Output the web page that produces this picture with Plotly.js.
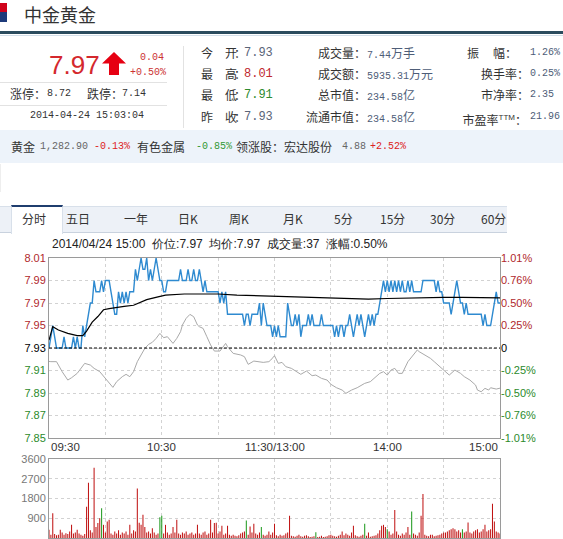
<!DOCTYPE html>
<html><head><meta charset="utf-8">
<script src="https://cdn.plot.ly/plotly-3.0.1.min.js"></script>
<style>
body{margin:0;width:563px;height:539px;overflow:hidden;background:#fff;position:relative;font-family:"Noto Sans CJK SC",sans-serif;}
.t{position:absolute;white-space:nowrap;line-height:16px;height:16px;font-size:12px;color:#333;}
.n{font-family:"Liberation Mono",monospace;font-size:10px;}
.r{text-align:right;}
.box{position:absolute;}
#chart{position:absolute;left:0;top:248px;width:563px;height:291px;}
</style></head>
<body>
<div id="hdr"></div>
<div id="chart"></div>
<script>
// ===== DATA =====
const stockName = "中金黄金";
const lastPrice = "7.97", change = "0.04", changePct = "+0.50%";
const limitUp = "8.72", limitDown = "7.14", stamp = "2014-04-24 15:03:04";
const col1Labels = [["今","开"],["最","高"],["最","低"],["昨","收"]];
const col1Values = ["7.93","8.01","7.91","7.93"];
const col2Labels = ["成交量：","成交额：","总市值：","流通市值："];
const col2Values = [["7.44","万手"],["5935.31","万元"],["234.58","亿"],["234.58","亿"]];
const col3Labels = ["振幅","换手率：","市净率：","市盈率"];
const col3Values = ["1.26%","0.25%","2.35","21.96"];
const bandItems = [["黄金","#333",0],["1,282.90","#666",1],["-0.13%","#d22",1],["有色金属","#333",0],["-0.85%","#393",1],["领涨股：宏达股份","#333",0],["4.88","#666",1],["+2.52%","#d22",1]];
const tabs = ["分时","五日","一年","日K","周K","月K","5分","15分","30分","60分"];
const infoLine = "2014/04/24 15:00  价位:7.97  均价:7.97  成交量:37  涨幅:0.50%";

const prevClose = 7.93;
const price = [
7.93,7.94,7.95,7.94,7.93,7.93,7.93,7.93,7.94,7.93,
7.93,7.93,7.93,7.94,7.93,7.94,7.93,7.93,7.95,7.94,
7.95,7.96,7.97,7.97,7.99,7.98,7.98,7.98,7.99,7.98,
7.99,7.99,7.99,7.98,7.97,7.96,7.96,7.98,7.97,7.98,
7.97,7.98,7.97,7.98,7.98,7.98,8.00,7.99,8.00,8.01,
8.00,8.00,8.01,7.99,8.00,7.99,8.00,8.01,8.00,7.99,
7.99,7.98,7.98,7.99,7.99,7.99,7.99,7.99,7.99,7.99,
8.00,7.99,7.99,7.99,8.00,7.99,7.99,8.00,7.99,7.99,
8.00,7.99,7.98,7.99,7.98,7.98,7.98,7.98,7.98,7.98,
7.98,7.97,7.98,7.97,7.98,7.96,7.96,7.96,7.96,7.96,
7.96,7.96,7.96,7.96,7.95,7.96,7.96,7.95,7.96,7.96,
7.96,7.96,7.97,7.95,7.97,7.96,7.95,7.95,7.95,7.94,
7.95,7.94,7.95,7.94,7.94,7.94,7.94,7.97,7.96,7.95,
7.95,7.96,7.95,7.96,7.94,7.95,7.95,7.95,7.96,7.95,
7.96,7.95,7.95,7.95,7.95,7.96,7.95,7.95,7.95,7.95,
7.95,7.95,7.94,7.95,7.94,7.95,7.95,7.94,7.95,7.95,
7.96,7.95,7.94,7.95,7.96,7.95,7.96,7.95,7.94,7.95,
7.96,7.95,7.96,7.95,7.96,7.96,7.97,7.98,7.99,7.98,
7.99,7.98,7.99,7.98,7.99,7.98,7.99,7.98,7.99,7.98,
7.98,7.99,7.98,7.99,7.98,7.98,7.98,7.98,7.98,7.99,
7.99,7.99,7.99,7.99,7.99,7.99,7.98,7.99,7.98,7.98,
7.97,7.97,7.97,7.97,7.96,7.97,7.98,7.99,7.98,7.97,
7.97,7.96,7.97,7.96,7.96,7.96,7.96,7.96,7.96,7.96,
7.96,7.95,7.96,7.95,7.95,7.95,7.96,7.97,7.98,7.97,7.97];
const avgMin = [0,2,5,10,15,18,20,23,26,29,32,35,40,45,48,52,58,62,72,82,90,100,110,120,130,140,150,160,170,180,190,200,210,220,230,240];
const avgPrice = [7.937,7.949,7.946,7.943,7.941,7.941,7.945,7.953,7.958,7.964,7.965,7.966,7.967,7.968,7.970,7.973,7.9755,7.977,7.978,7.978,7.978,7.977,7.9765,7.976,7.975,7.9745,7.974,7.9735,7.9735,7.974,7.9745,7.975,7.975,7.975,7.975,7.9745];
const idxMin = [0,1,4,7,10,12,15,19,22,24,27,30,32,34,36,39,41,43,45,47,49,51,53,55,57,59,61,63,66,68,70,71,73,75,77,79,80,82,84,86,88,91,94,95,98,102,104,106,109,111,114,117,118,120,122,124,126,129,132,134,137,140,142,145,148,150,153,156,158,161,164,165,168,171,173,176,178,180,182,184,186,188,191,194,196,197,200,203,205,208,211,213,216,219,221,224,227,228,230,232,234,235,238,240];
const idxPct = [-0.15,-0.153,-0.153,-0.265,-0.359,-0.333,-0.284,-0.172,-0.191,-0.228,-0.265,-0.34,-0.396,-0.441,-0.377,-0.321,-0.295,-0.321,-0.265,-0.153,-0.078,-0.004,0.041,0.064,0.108,0.164,0.116,0.127,0.052,0.108,0.183,0.258,0.333,0.377,0.351,0.258,0.239,0.22,0.127,0.034,-0.034,-0.034,0.052,0.015,-0.06,-0.078,-0.097,-0.183,-0.146,-0.153,-0.161,-0.153,-0.135,-0.086,-0.172,-0.161,-0.209,-0.228,-0.273,-0.295,-0.258,-0.31,-0.303,-0.34,-0.359,-0.407,-0.445,-0.471,-0.508,-0.471,-0.445,-0.434,-0.396,-0.377,-0.34,-0.284,-0.265,-0.303,-0.247,-0.228,-0.284,-0.284,-0.153,-0.078,-0.022,-0.041,-0.078,-0.116,-0.153,-0.209,-0.265,-0.303,-0.247,-0.284,-0.321,-0.359,-0.415,-0.471,-0.49,-0.452,-0.471,-0.445,-0.46,-0.45];
const volume = [
380,150,1130,180,120,150,380,250,150,220,
180,300,600,200,250,380,200,150,100,180,
1430,2520,350,250,3200,500,680,900,1360,600,
250,750,830,200,150,300,200,350,150,250,
200,300,150,600,200,350,300,2260,700,600,
1060,500,250,300,200,450,250,150,200,950,
1010,200,600,250,150,200,500,250,830,200,
150,250,200,300,150,200,250,150,200,600,
200,150,250,300,150,200,830,250,680,700,
200,300,560,150,200,560,150,100,150,100,
80,120,200,250,300,800,150,530,250,650,
200,150,250,500,150,100,150,300,150,250,
650,120,80,150,100,120,200,250,1010,100,
80,60,100,150,80,60,100,120,80,50,
60,80,260,50,60,100,40,60,80,120,
150,100,80,60,100,150,300,120,200,150,
100,250,560,120,80,60,100,150,650,100,
250,60,80,100,120,200,350,560,600,500,
400,300,150,200,1280,300,150,100,200,150,
250,500,150,1210,200,150,100,250,1010,2010,
150,100,80,150,150,80,100,120,150,200,
250,250,300,350,400,450,400,300,350,250,
400,250,300,710,250,200,300,350,400,250,
300,400,600,300,350,400,1560,755,300,250,200];
const sellMinutes = [28,59,60,105,113,142,168,180,193,220];
const priceTicks = [7.85,7.87,7.89,7.91,7.93,7.95,7.97,7.99,8.01];
const priceTickText = ["7.85","7.87","7.89","7.91","7.93","7.95","7.97","7.99","8.01"];
const pctTickText = ["-1.01%","-0.76%","-0.50%","-0.25%","0","0.25%","0.50%","0.76%","1.01%"];
const volTicks = [0,900,1800,2700,3600];
const timeLabels = [[0,"09:30"],[60,"10:30"],[120,"11:30/13:00"],[180,"14:00"],[240,"15:00"]];

// ===== HEADER (HTML) =====
const H = document.getElementById('hdr');
function box(x,y,w,h,bg,extra){const d=document.createElement('div');d.className='box';d.style.cssText=`left:${x}px;top:${y}px;width:${w}px;height:${h}px;background:${bg};${extra||''}`;H.appendChild(d);return d;}
function txt(s,x,y,opt){opt=opt||{};const d=document.createElement('div');d.className='t'+(opt.mono?' n':'')+(opt.right?' r':'');
 if(opt.html)d.innerHTML=s;else d.textContent=s;
 let css=`top:${y-8}px;`; if(opt.right){css+=`right:${563-x}px;`;}else css+=`left:${x}px;`;
 if(opt.color)css+=`color:${opt.color};`; if(opt.size)css+=`font-size:${opt.size}px;`; if(opt.font)css+=`font-family:${opt.font};`;
 if(opt.lh){css+=`line-height:${opt.lh}px;height:${opt.lh}px;top:${y-opt.lh/2}px;`;}
 if(opt.ls!==undefined)css+=`letter-spacing:${opt.ls}px;`;
 d.style.cssText+=css;H.appendChild(d);return d;}

box(0,3,7,9,'#d0021b'); box(0,12,7,10,'#1d3a7a');
txt(stockName,24,14,{size:18,lh:24,color:'#333'});
box(0,31,563,3,'#2b4c5e'); box(0,35,563,1,'#d3dfe9');
txt(lastPrice,49,65,{size:26,lh:32,color:'#d4282d',font:'"Liberation Sans",Arial'});
const arr=document.createElementNS('http://www.w3.org/2000/svg','svg');
arr.setAttribute('width','24');arr.setAttribute('height','24');arr.style.cssText='position:absolute;left:102px;top:52px;';
arr.innerHTML='<polygon points="12,0 24,11.5 17,11.5 17,23 7,23 7,11.5 0,11.5" fill="#e60012"/>';H.appendChild(arr);
txt(change,164,58,{mono:1,right:1,color:'#c33'});
txt(changePct,166,73,{mono:1,right:1,color:'#c33'});
box(0,82,167,1,'#e2e2e2');
txt("涨停：",10,94); txt(limitUp,47,94,{mono:1});
txt("跌停：",87,94); txt(limitDown,122,94,{mono:1});
box(0,105,167,1,'#e2e2e2');
txt(stamp,30,116,{mono:1});
box(183,46,1,82,'#e2e2e2');
const rowsY=[53,74,95,117];
const c1col=['#5a6478','#c0282d','#2d8a2d','#5a6478'];
rowsY.forEach((y,i)=>{txt(col1Labels[i][0],201,y);txt(col1Labels[i][1]+"：",225,y,{ls:-3});txt(col1Values[i],244,y,{mono:1,size:12,color:c1col[i]});});
rowsY.forEach((y,i)=>{txt(col2Labels[i],366,y,{right:1});txt(`<span class="n">${col2Values[i][0]}</span>${col2Values[i][1]}`,367,y,{html:1,color:'#4e5d78'});});
txt(col3Labels[0][0],467,rowsY[0]); txt(col3Labels[0][1]+"：",493,rowsY[0]);
txt(col3Labels[1],529,rowsY[1],{right:1}); txt(col3Labels[2],529,rowsY[2],{right:1});
txt(col3Labels[3]+'<sup style="font-size:8px;font-family:Liberation Sans;vertical-align:5px;">TTM</sup>：',527,rowsY[3]+1,{right:1,html:1});
rowsY.forEach((y,i)=>{txt(col3Values[i],530,y,{mono:1,color:'#4e5d78'});});
// band
box(0,130,563,33,'#edf3fa');
let bx=[11,40,94,137,196,236,342,370];
bandItems.forEach((b,i)=>txt(b[0],bx[i],147,{mono:b[2],color:b[1]}));
box(0,164,1,28,'#eeeeee');
// tabs
box(0,206,507,25,'#edf1f7','border-top:1px solid #d8e0ea;border-bottom:1px solid #c9d2de;');
box(11,205,50,27,'#fff','border-top:2px solid #1f3d6e;border-left:1px solid #d8e0ea;border-right:1px solid #d8e0ea;');
const tabX=[22,66,124,178,229,283,334,380,430,481];
tabs.forEach((s,i)=>txt(s,tabX[i],219,{color:'#333'}));
txt(infoLine,52,244,{size:12,color:'#222',font:'"Liberation Sans",Arial',html:0}).style.whiteSpace='pre';

// ===== CHART (Plotly) =====
const mins = price.map((_,i)=>i);
const pct = v => (v-prevClose)/prevClose*100;
const red='#b0282c', green='#2b8a2b';
const colorTick=(s,v,base)=>`<span style="color:${v>base?red:(v<base?green:'#000')}">${s}</span>`;
const volColors = volume.map((_,i)=>sellMinutes.includes(i)?'#1f9a1f':'#c01414');
const grid = {showgrid:true,gridcolor:'#d2d2d2',griddash:'3px,3px',gridwidth:1,zeroline:false,showline:true,linecolor:'#9a9a9a',mirror:true,ticks:''};
const xt=[0,30,60,90,120,150,180,210,240];
const traces=[
 {x:idxMin,y:idxPct,yaxis:'y2',xaxis:'x',type:'scatter',mode:'lines',line:{color:'#a9a9a9',width:1},hoverinfo:'skip'},
 {x:mins,y:price,xaxis:'x',yaxis:'y',type:'scatter',mode:'lines',line:{color:'#2e8ad0',width:1.4},hoverinfo:'skip'},
 {x:avgMin,y:avgPrice,xaxis:'x',yaxis:'y',type:'scatter',mode:'lines',line:{color:'#000',width:1.2},hoverinfo:'skip'},
 {x:mins,y:volume,xaxis:'x2',yaxis:'y3',type:'bar',width:0.55,marker:{color:volColors,line:{width:0}},hoverinfo:'skip'}
];
const layout={
 width:563,height:291,margin:{l:49,r:63,t:10,b:1},
 paper_bgcolor:'rgba(0,0,0,0)',plot_bgcolor:'#fff',showlegend:false,
 font:{family:'"Liberation Sans", Arial, sans-serif',size:11,color:'#333'},
 xaxis:Object.assign({domain:[0,1],range:[0,240],anchor:'y',tickvals:xt,showticklabels:false},grid),
 yaxis:Object.assign({domain:[0.357,1],range:[7.85,8.01],tickvals:priceTicks,ticktext:priceTickText.map((s,i)=>colorTick(s,priceTicks[i],prevClose)),tickfont:{size:11}},grid),
 yaxis2:{overlaying:'y',side:'right',range:[pct(7.85),pct(8.01)],tickvals:priceTicks.map(pct),ticktext:pctTickText.map((s,i)=>colorTick(s,priceTicks[i],prevClose)),showgrid:false,zeroline:false,showline:false,ticks:'',tickfont:{size:11}},
 xaxis2:Object.assign({domain:[0,1],range:[0,240],anchor:'y3',tickvals:xt,showticklabels:false},grid),
 yaxis3:Object.assign({domain:[0,0.282],range:[0,3600],tickvals:volTicks,tickfont:{size:11,color:'#777'}},grid),
 shapes:[{type:'line',xref:'x',yref:'y',x0:0,x1:240,y0:prevClose,y1:prevClose,line:{color:'#000',width:1,dash:'3px,2px'}}],
 annotations:timeLabels.map((t,i)=>({x:t[0],y:0.325,xref:'x',yref:'paper',text:t[1],showarrow:false,xanchor:i===0?'left':(i===timeLabels.length-1?'right':'center'),yanchor:'middle',font:{size:11.5,color:'#333'}}))
};
Plotly.newPlot('chart',traces,layout,{staticPlot:true,displayModeBar:false});
</script>
</body></html>
